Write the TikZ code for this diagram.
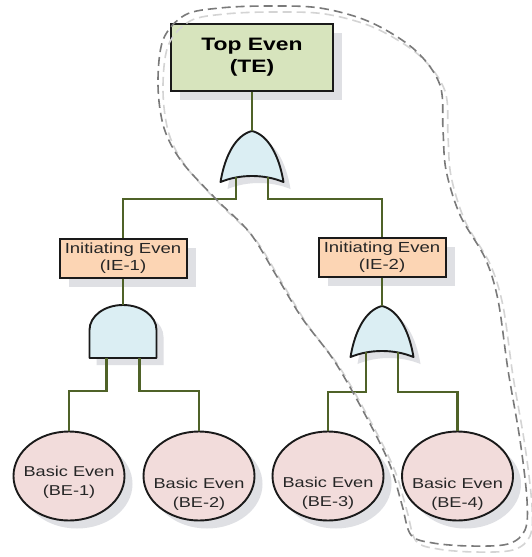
\documentclass[tikz,border=0pt]{standalone}
\usepackage{fontspec}
\setmainfont{Liberation Sans}[FakeStretch=1.27]
\usetikzlibrary{shadows,shapes.geometric}

\definecolor{wire}{HTML}{4F6228}
\definecolor{edge}{HTML}{1A1A1A}
\definecolor{ink}{HTML}{262626}
\definecolor{topfill}{HTML}{D7E4BD}
\definecolor{iefill}{HTML}{FCD5B4}
\definecolor{gatefill}{HTML}{DBEEF3}
\definecolor{befill}{HTML}{F2DCDB}
\definecolor{shade}{HTML}{DFE0E4}
\definecolor{fencedark}{HTML}{7A7A7A}
\definecolor{fencelight}{HTML}{D4D4D4}

\begin{document}
\begin{tikzpicture}[x=1pt, y=-1pt,
  conn/.style={draw=wire, line width=2.1pt},
  sh/.style={drop shadow={shadow xshift=#1, shadow yshift=-#1, fill=shade, opacity=1}},
  topbox/.style={rectangle, draw=edge, line width=2pt, fill=topfill, inner sep=0pt,
    minimum width=162pt, minimum height=67pt, align=center, text=black,
    font=\fontsize{18}{22}\selectfont\bfseries, sh=9pt},
  iebox/.style={rectangle, draw=edge, line width=2pt, fill=iefill, inner sep=0pt,
    minimum width=127pt, minimum height=39pt, align=center, text=ink,
    font=\fontsize{14.6}{17}\selectfont, sh=9pt},
  basic/.style={ellipse, draw=edge, line width=1.9pt, fill=befill, inner sep=0pt,
    minimum width=111pt, minimum height=89pt, sh=8pt},
  betext/.style={align=center, text=ink, inner sep=0pt, font=\fontsize{14.3}{19}\selectfont},
  gate/.style={draw=edge, fill=gatefill, line width=1.9pt, line join=round, sh=7pt},
  fence/.style={dashed, dash pattern=on 9pt off 5pt, line width=1.6pt},
  orgate/.pic={
    \path[gate] (-31.5,51) .. controls (-27,24) and (-16,4) .. (0,0)
      .. controls (16,4) and (27,24) .. (31.5,51)
      .. controls (12,43) and (-12,43) .. (-31.5,51) -- cycle;
    \coordinate (-top) at (0,0);
    \coordinate (-a) at (-16,46);
    \coordinate (-b) at (16,46);
  },
  andgate/.pic={
    \path[gate] (-33.5,53) -- (-33.5,25) .. controls (-33.5,11) and (-18.5,0) .. (0,0)
      .. controls (18.5,0) and (33.5,11) .. (33.5,25) -- (33.5,53) -- cycle;
    \coordinate (-top) at (0,0);
    \coordinate (-a) at (-16.5,53);
    \coordinate (-b) at (16.5,53);
  },
]
\useasboundingbox (0,0) rectangle (532,557);
\fill[white] (0,0) rectangle (532,557);

% events
\node[topbox] (te) at (252,57.5) {Top Even\\(TE)};
\node[iebox] (ie1) at (123,258) {Initiating Even\\(IE-1)};
\node[iebox] (ie2) at (382,257.5) {Initiating Even\\(IE-2)};

\node[basic] (be1) at (69,476) {};
\node[basic] (be2) at (199,476) {};
\node[basic] (be3) at (328,476) {};
\node[basic] (be4) at (457.5,476) {};
\node[betext] (be1t) at (be1.center) [yshift=-6pt] {Basic Even\\(BE-1)};
\node[betext] (be2t) at (be2.center) [yshift=-18pt] {Basic Even\\(BE-2)};
\node[betext] (be3t) at (be3.center) [yshift=-17pt] {Basic Even\\(BE-3)};
\node[betext] (be4t) at (be4.center) [yshift=-18pt] {Basic Even\\(BE-4)};

% gates
\pic (g1) at (252,131) {orgate};
\pic (g2) at (123,305) {andgate};
\pic (g3) at (382,306) {orgate};

% connectors
\draw[conn] (te.south) -- (g1-top);
\draw[conn] (g1-a) -- ++(0,22) -| (ie1.north);
\draw[conn] (g1-b) -- ++(0,22) -| (ie2.north);
\draw[conn] (ie1.south) -- (g2-top);
\draw[conn] (ie2.south) -- (g3-top);
\draw[conn] (g2-a) -- ++(0,33) -| (be1.north);
\draw[conn] (g2-b) -- ++(0,33) -| (be2.north);
\draw[conn] (g3-a) -- ++(0,40) -| (be3.north);
\draw[conn] (g3-b) -- ++(0,40) -| (be4.north);

% dashed boundary around the right branch
\def\fencepath{plot[smooth cycle, tension=0.55] coordinates {
  (267,6) (320,8) (370,22) (415,50) (440,85) (443,130) (446,170) (460,215)
  (485,258) (498,300) (508,370) (520,440) (527,500) (525,530) (508,544)
  (470,546) (433,543) (411,535) (402,505) (390,465) (368,420) (335,362)
  (302,318) (276,275) (250,233) (217,200) (182,162) (164,128) (158,85)
  (163,40) (185,15) (220,8)}}
\draw[fence, draw=fencelight, shift={(5,6)}] \fencepath;
\draw[fence, draw=fencedark] \fencepath;
\end{tikzpicture}
\end{document}
